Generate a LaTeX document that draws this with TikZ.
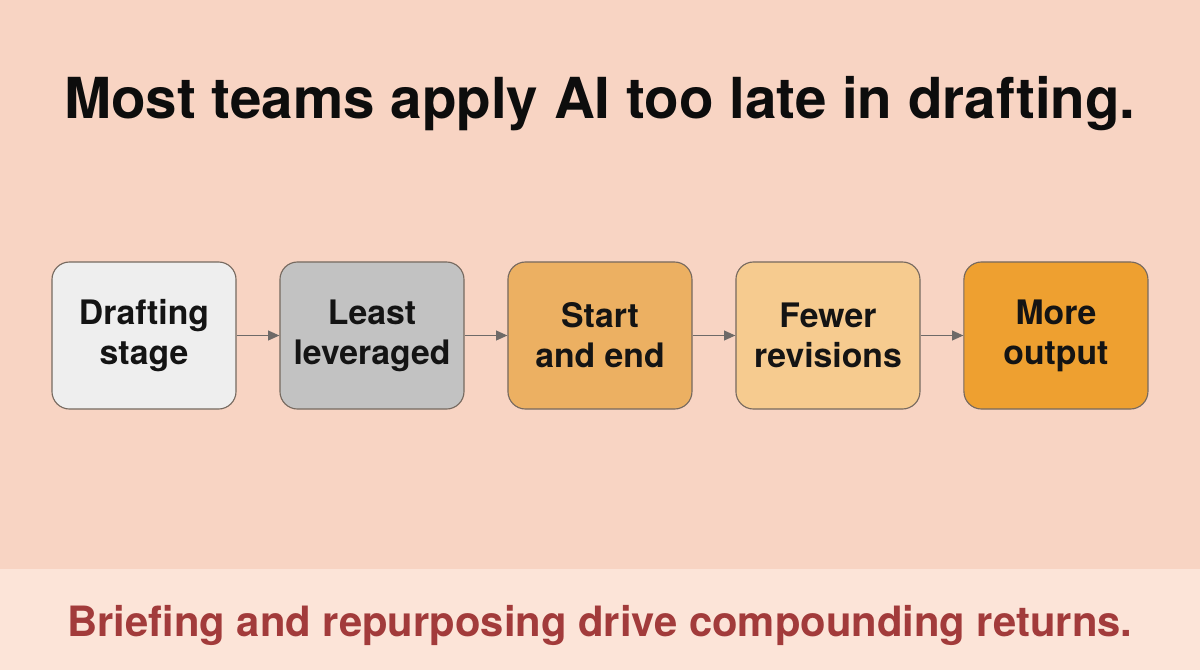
\documentclass[tikz,border=0pt]{standalone}
\usepackage{fontspec}
\setmainfont{TeX Gyre Heros}
\usetikzlibrary{arrows.meta, positioning}
\definecolor{bgpeach}{HTML}{F8D4C3}
\definecolor{bandpeach}{HTML}{FCE4D8}
\definecolor{edgegrey}{HTML}{76695F}
\definecolor{arrgrey}{HTML}{6E6A68}
\definecolor{fillA}{HTML}{EEEEEE}
\definecolor{fillB}{HTML}{C2C2C2}
\definecolor{fillC}{HTML}{ECB062}
\definecolor{fillD}{HTML}{F6CB8F}
\definecolor{fillE}{HTML}{EEA030}
\definecolor{takeaway}{HTML}{A23B3B}
\tikzset{
  stg/.style   = {draw=edgegrey, rounded corners=12.5pt, align=center, line width=0.8pt,
                  minimum width=4.6cm, minimum height=3.675cm, inner sep=2pt,
                  font=\fontsize{24}{28.5}\selectfont\bfseries, text=black!92},
  fl/.style    = {-{Triangle[length=8pt, width=7pt]}, line width=0.9pt, draw=arrgrey},
  ttl/.style   = {font=\fontsize{40.2}{48}\selectfont\bfseries, text=black!95, inner sep=0pt},
  note/.style  = {font=\fontsize{29.7}{36}\selectfont\bfseries, text=takeaway, inner sep=0pt},
}

\begin{document}
\begin{tikzpicture}[x=0.025cm, y=-0.025cm, node distance=1.07cm]
  % backdrop and bottom band
  \fill[bgpeach] (0,0) rectangle (1200,670);
  \fill[bandpeach] (0,569) rectangle (1200,670);

  \node[ttl, anchor=base] (title) at (600,118) {Most teams apply AI too late in drafting.};

  \node[stg, fill=fillA] (s1) at (144,335.5) {Drafting\\stage};
  \node[stg, fill=fillB, right=of s1] (s2) {Least\\leveraged};
  \node[stg, fill=fillC, right=of s2] (s3) {Start\\and end};
  \node[stg, fill=fillD, right=of s3] (s4) {Fewer\\revisions};
  \node[stg, fill=fillE, right=of s4] (s5) {More\\output};
  \foreach \a/\b in {s1/s2, s2/s3, s3/s4, s4/s5} \draw[fl] (\a)--(\b);

  \node[note, anchor=base] (msg) at (600,636) {Briefing and repurposing drive compounding returns.};
\end{tikzpicture}
\end{document}
